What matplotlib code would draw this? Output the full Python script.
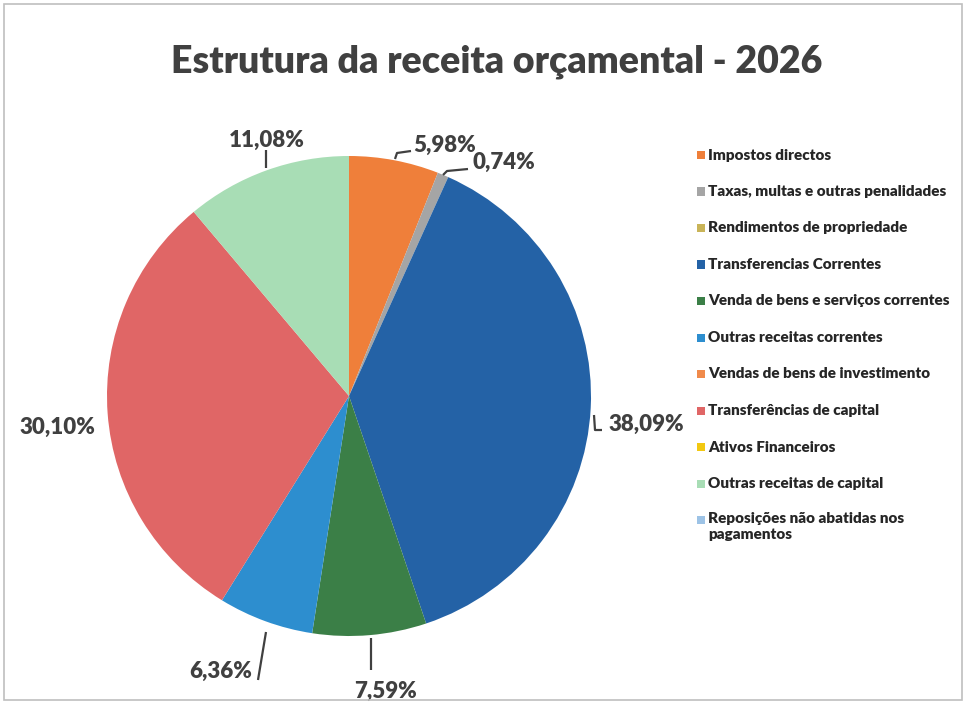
import matplotlib
matplotlib.use("Agg")
import matplotlib.pyplot as plt
import numpy as np
from matplotlib.patches import Rectangle

categories = [
    "Impostos directos",
    "Taxas, multas e outras penalidades",
    "Rendimentos de propriedade",
    "Transferencias Correntes",
    "Venda de bens e serviços correntes",
    "Outras receitas correntes",
    "Vendas de bens de investimento",
    "Transferências de capital",
    "Ativos Financeiros",
    "Outras receitas de capital",
    "Reposições não abatidas nos\npagamentos",
]
values = [5.98, 0.74, 0.0, 38.09, 7.59, 6.36, 0.0, 30.10, 0.0, 11.08, 0.0]
colors = ["#EF7F3A", "#A5A5A5", "#C9B458", "#2462A6", "#3B7F47", "#2D8ECF",
          "#F08A4B", "#E06666", "#F2C811", "#A8DDB5", "#9DC3E6"]

W, H = 966, 703
cx, cy, Rx, Ry = 349, 396, 242, 240
fig = plt.figure(figsize=(W/100, H/100), dpi=100)
ax = fig.add_axes([0, 0, 1, 1])

fig.patches.append(Rectangle((0.004, 0.004), 0.992, 0.99, transform=fig.transFigure,
                             fill=False, edgecolor="#BFBFBF", lw=1.2))

wedges, _ = ax.pie(values, colors=colors, startangle=90, counterclock=False, radius=1.0,
                   wedgeprops=dict(edgecolor="none"))
ax.set_aspect("auto")
ax.set_xlim(-cx/Rx, (W-cx)/Rx)
ax.set_ylim(-(H-cy)/Ry, cy/Ry)
ax.axis("off")

font = "Lato"
tc = "#404040"
fig.text(0.5145, 0.912, "Estrutura da receita orçamental - 2026", ha="center", va="center",
         fontsize=27, fontweight="heavy", color=tc, family=font)

def fmt(v):
    return f"{v:.2f}%".replace(".", ",")

def pt(px, py):
    return ((px-cx)/Rx, (cy-py)/Ry)

lab = {0: (445, 145), 1: (504, 162), 3: (646, 424),
       7: (57, 427), 5: (221, 671), 4: (385, 691), 9: (267, 140)}
for i, (px, py) in lab.items():
    x, y = pt(px, py)
    ax.text(x, y, fmt(values[i]), ha="center", va="center", fontsize=16, fontweight="heavy",
            color=tc, family=font)

lines = {
    0: [(395, 159), (397, 153), (411, 151)],
    1: [(443, 175), (447, 171), (468, 169)],
    3: [(594, 415), (595, 430), (602, 430)],
    9: [(266, 150), (266, 168)],
    5: [(258, 680), (266, 632)],
    4: [(371, 638), (371, 670)],
}
for i, pts in lines.items():
    xs, ys = zip(*[pt(*p) for p in pts])
    ax.plot(xs, ys, color=tc, lw=1.6, solid_capstyle="butt")

# legend
y0, dy = 155, 36.5
for k, (name, c) in enumerate(zip(categories, colors)):
    py = y0 + k*dy
    fig.patches.append(Rectangle((697/W, 1 - (py+4)/H), 8/W, 8/H, transform=fig.transFigure,
                                 facecolor=c, edgecolor="none"))
    if "\n" in name:
        fig.text(708/W, 1 - (py-8)/H, name, ha="left", va="top",
                 fontsize=11, fontweight="heavy", color="#262626", family=font, linespacing=1.3)
    else:
        fig.text(708/W, 1 - py/H, name, ha="left", va="center",
                 fontsize=11, fontweight="heavy", color="#262626", family=font)

fig.savefig("out.png", dpi=100)
